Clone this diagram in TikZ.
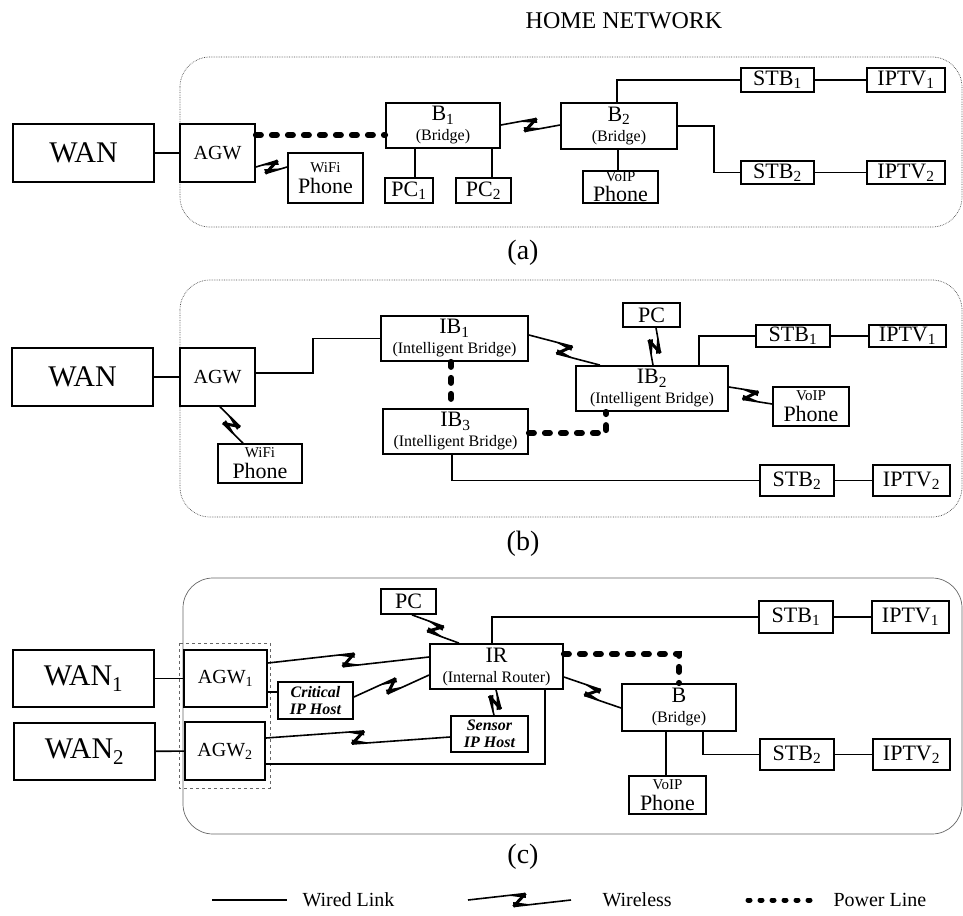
\documentclass[tikz,border=0pt]{standalone}
\usepackage{fontspec}
\setmainfont{Liberation Serif}
\usetikzlibrary{calc}

\newcommand{\fsmall}{\fontsize{15}{15}\selectfont}
\newcommand{\fsubt}{\fontsize{16}{16}\selectfont}
\newcommand{\fmid}{\fontsize{20}{22}\selectfont}
\newcommand{\fbig}{\fontsize{30}{30}\selectfont}
\newcommand{\fhost}{\fontsize{16}{17}\selectfont\bfseries\itshape}

\tikzset{
  box/.style={draw, line width=1.8pt, inner sep=0pt, align=center},
  wire/.style={line width=1.6pt},
  power/.style={line width=6pt, line cap=round, dash pattern=on 5pt off 11pt},
  panel/.style={draw=black!70, densely dotted, line width=0.7pt, rounded corners=30pt},
}

\newcommand{\wless}[2]{%
  \path (#1) coordinate (wa) (#2) coordinate (wb);
  \path ($(wa)!.5!(wb)$) coordinate (wm);
  \path ($(wm)!6pt!(wb)$) coordinate (wq1) ($(wm)!-6pt!(wb)$) coordinate (wq2);
  \path ($(wq1)!6.5pt!90:(wb)$) coordinate (z1) ($(wq2)!6.5pt!-90:(wb)$) coordinate (z2);
  \draw[wire] (wa) -- (z1) (z2) -- (wb);
  \draw[line width=3pt] (z1) -- (z2);
  \fill (z1) -- ($(z1)!18pt!(wa)$) -- ($(z1)!4.5pt!90:(wa)$) -- cycle;
  \fill (z2) -- ($(z2)!18pt!(wb)$) -- ($(z2)!4.5pt!90:(wb)$) -- cycle;}

\begin{document}
\begin{tikzpicture}[x=1pt, y=-1pt, font=\fontsize{22}{24}\selectfont]
\useasboundingbox (0,0) rectangle (963,915);
\node (title) at (624,21) {\fontsize{24}{24}\selectfont HOME NETWORK};

\draw[panel] (180,57) rectangle (962,227);
\node[box, minimum width=141, minimum height=58, font=\fbig] (wanA) at (83.5,153) {WAN};
\node[box, minimum width=75, minimum height=58, font=\fmid] (agwA) at (217.5,153) {AGW};
\node[box, minimum width=75, minimum height=50] (wifiA) at (325.5,178) {{\fsmall WiFi}\\[-3pt]Phone};
\node[box, minimum width=114, minimum height=45] (b1) at (443,125.5) {B\textsubscript{1}\\[-4pt]{\fsubt (Bridge)}};
\node[box, minimum width=48, minimum height=25] (pc1) at (409,190.5) {PC\textsubscript{1}};
\node[box, minimum width=55, minimum height=25] (pc2) at (483.5,190.5) {PC\textsubscript{2}};
\node[box, minimum width=116, minimum height=46] (b2) at (619,126) {B\textsubscript{2}\\[-4pt]{\fsubt (Bridge)}};
\node[box, minimum width=75, minimum height=32] (voipA) at (620.5,187) {{\fsmall VoIP}\\[-4pt]Phone};
\node[box, minimum width=73, minimum height=24] (stb1A) at (777.5,80) {STB\textsubscript{1}};
\node[box, minimum width=78, minimum height=24] (iptv1A) at (906,80) {IPTV\textsubscript{1}};
\node[box, minimum width=73, minimum height=23] (stb2A) at (777.5,172.5) {STB\textsubscript{2}};
\node[box, minimum width=78, minimum height=23] (iptv2A) at (906,172.5) {IPTV\textsubscript{2}};
\draw[wire] (wanA) -- (agwA);
\draw[power] (agwA.east |- 0,135) -- (b1.west |- 0,135);
\wless{agwA.east |- 0,167}{wifiA.west |- 0,167}
\draw[wire] (b1.south -| 415,0) -- (pc1.north -| 415,0);
\draw[wire] (b1.south -| 492,0) -- (pc2.north -| 492,0);
\wless{b1.east |- 0,125}{b2.west |- 0,125}
\draw[wire] (b2.south -| 618,0) -- (voipA.north -| 618,0);
\draw[wire] (b2.north -| 617,0) |- (stb1A.west);
\draw[wire] (stb1A) -- (iptv1A);
\draw[wire] (b2.east) -- ++(36,0) |- (stb2A.west);
\draw[wire] (stb2A) -- (iptv2A);
\node (capA) at (523,253) {\fontsize{28}{28}\selectfont (a)};

\draw[panel] (180,280) rectangle (962,517);
\node[box, minimum width=141, minimum height=58, font=\fbig] (wanB) at (82.5,377) {WAN};
\node[box, minimum width=75, minimum height=58, font=\fmid] (agwB) at (217.5,377) {AGW};
\node[box, minimum width=147, minimum height=45] (ib1) at (454.5,338.5) {IB\textsubscript{1}\\[-4pt]{\fsubt (Intelligent Bridge)}};
\node[box, minimum width=145, minimum height=45] (ib3) at (455.5,431.5) {IB\textsubscript{3}\\[-4pt]{\fsubt (Intelligent Bridge)}};
\node[box, minimum width=84, minimum height=39] (wifiB) at (260,463.5) {{\fsmall WiFi}\\[-3pt]Phone};
\node[box, minimum width=57, minimum height=24] (pcB) at (651.5,315) {PC};
\node[box, minimum width=152, minimum height=45] (ib2) at (652,388.5) {IB\textsubscript{2}\\[-4pt]{\fsubt (Intelligent Bridge)}};
\node[box, minimum width=74, minimum height=22] (stb1B) at (793,336) {STB\textsubscript{1}};
\node[box, minimum width=77, minimum height=22] (iptv1B) at (907.5,336) {IPTV\textsubscript{1}};
\node[box, minimum width=76, minimum height=39] (voipB) at (811,406.5) {{\fsmall VoIP}\\[-3pt]Phone};
\node[box, minimum width=74, minimum height=31] (stb2B) at (797,480.5) {STB\textsubscript{2}};
\node[box, minimum width=77, minimum height=31] (iptv2B) at (911.5,480.5) {IPTV\textsubscript{2}};
\draw[wire] (wanB) -- (agwB);
\draw[wire] (agwB.east |- 0,373) -- ++(57,0) |- (ib1.west);
\wless{agwB.south -| 220,0}{wifiB.north -| 243,0}
\draw[power] (ib1.south -| 451,0) -- (ib3.north -| 451,0);
\wless{ib1.east |- 0,335}{ib2.north -| 600,0}
\wless{pcB.south -| 656,0}{ib2.north -| 653,0}
\draw[wire] (ib2.north -| 699,0) |- (stb1B.west);
\draw[wire] (stb1B) -- (iptv1B);
\wless{ib2.east |- 0,387}{voipB.west |- 0,404}
\draw[power] (ib3.east |- 0,433) -| (ib2.south -| 606,0);
\draw[wire] (ib3.south -| 452,0) |- (stb2B.west);
\draw[wire] (stb2B) -- (iptv2B);
\node (capB) at (523,544) {\fontsize{28}{28}\selectfont (b)};

\draw[panel, solid, draw=black!60] (183,578) rectangle (962,834);
\draw[dashed, draw=black!60, line width=1pt] (179,643) rectangle (270,788);
\node[box, minimum width=141, minimum height=57, font=\fbig] (wan1) at (83.5,678.5) {WAN\textsubscript{1}};
\node[box, minimum width=141, minimum height=57, font=\fbig] (wan2) at (84.5,751.5) {WAN\textsubscript{2}};
\node[box, minimum width=83, minimum height=57, font=\fmid] (agw1) at (225.5,678.5) {AGW\textsubscript{1}};
\node[box, minimum width=80, minimum height=58, font=\fmid] (agw2) at (225,751) {AGW\textsubscript{2}};
\node[box, minimum width=75, minimum height=37, font=\fhost] (critical) at (315.5,700.5) {Critical\\IP Host};
\node[box, minimum width=77, minimum height=36, font=\fhost] (sensor) at (489.5,734) {Sensor\\IP Host};
\node[box, minimum width=55, minimum height=25] (pcC) at (408.5,601.5) {PC};
\node[box, minimum width=133, minimum height=45] (ir) at (496.5,666.5) {IR\\[-4pt]{\fsubt (Internal Router)}};
\node[box, minimum width=114, minimum height=47] (b) at (679,707.5) {B\\[-4pt]{\fsubt (Bridge)}};
\node[box, minimum width=74, minimum height=32] (stb1C) at (796,617) {STB\textsubscript{1}};
\node[box, minimum width=77, minimum height=32] (iptv1C) at (910.5,617) {IPTV\textsubscript{1}};
\node[box, minimum width=74, minimum height=31] (stb2C) at (797,754.5) {STB\textsubscript{2}};
\node[box, minimum width=77, minimum height=31] (iptv2C) at (911.5,754.5) {IPTV\textsubscript{2}};
\node[box, minimum width=77, minimum height=38] (voipC) at (667.5,795) {{\fsmall VoIP}\\[-3pt]Phone};
\draw[wire] (wan1) -- (agw1);
\draw[wire] (wan2) -- (agw2);
\wless{agw1.east |- 0,663}{ir.west |- 0,657}
\draw[wire] (agw1.east |- 0,692) -- (critical.west |- 0,692);
\wless{critical.east |- 0,697}{ir.west |- 0,675}
\wless{agw2.east |- 0,738}{sensor.west |- 0,737}
\draw[wire] (agw2.east |- 0,764) -| (ir.south -| 545,0);
\wless{pcC.south -| 412,0}{ir.north -| 459,0}
\wless{sensor.north -| 494,0}{ir.south -| 496,0}
\draw[wire] (ir.north -| 492,0) |- (stb1C.west);
\draw[wire] (stb1C) -- (iptv1C);
\draw[power] (ir.east |- 0,654) -| (b.north);
\wless{ir.east |- 0,677}{b.west |- 0,708}
\draw[wire] (b.south -| 666,0) -- (voipC.north -| 666,0);
\draw[wire] (b.south -| 703,0) |- (stb2C.west);
\draw[wire] (stb2C) -- (iptv2C);
\node (capC) at (523,857) {\fontsize{28}{28}\selectfont (c)};

\coordinate (lg1) at (212,900);
\coordinate (lg2) at (287,900);
\coordinate (lg3) at (468,900);
\coordinate (lg4) at (571,900);
\coordinate (lg5) at (748,900);
\coordinate (lg6) at (815,900);
\draw[wire, line width=2.5pt] (lg1) -- (lg2);
\node[anchor=west, font=\fontsize{20}{20}\selectfont] (lgwired) at (299,900) {Wired Link};
\wless{lg3}{lg4}
\node[anchor=west, font=\fontsize{20}{20}\selectfont] (lgwless) at (599,900) {Wireless};
\draw[power, line width=5pt, dash pattern=on 2pt off 10pt] (lg5) -- (lg6);
\node[anchor=west, font=\fontsize{20}{20}\selectfont] (lgpower) at (830,900) {Power Line};
\end{tikzpicture}
\end{document}
